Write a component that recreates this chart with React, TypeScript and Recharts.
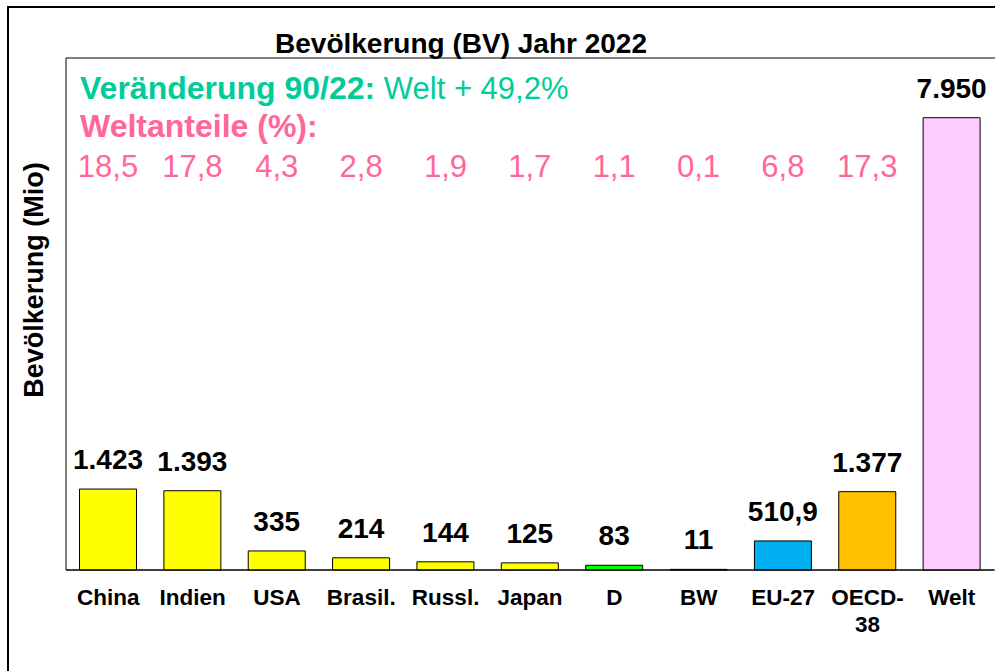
import { BarChart, Bar, XAxis, YAxis, Cell, LabelList, ReferenceArea } from 'recharts';

// Bevölkerung 2022 in Mio, Weltanteile in %
const categories = ['China', 'Indien', 'USA', 'Brasil.', 'Russl.', 'Japan', 'D', 'BW', 'EU-27', 'OECD-\n38', 'Welt'];
const population = [1423, 1393, 335, 214, 144, 125, 83, 11, 510.9, 1377, 7950];
const worldShare: (number | null)[] = [18.5, 17.8, 4.3, 2.8, 1.9, 1.7, 1.1, 0.1, 6.8, 17.3, null];
const boundaryTicks = [0, 1, 2, 3, 4, 5, 6, 7, 8, 9, 10, 11];

const barColors = ['#FFFF00', '#FFFF00', '#FFFF00', '#FFFF00', '#FFFF00', '#FFFF00', '#00FF00', '#00FF00', '#00B0F0', '#FFC000', '#FFCCFF'];

const data = categories.map((name, i) => ({ name, value: population[i], share: worldShare[i] }));

const FONT = '"Liberation Sans", Arial, Helvetica, sans-serif';
const GREEN = '#00CC99';
const PINK = '#FF6699';

// German number format: 1.423 / 510,9
function fmtDe(v: number, decimals: number): string {
  const [int, dec] = v.toFixed(decimals).split('.');
  const grouped = int.replace(/\B(?=(\d{3})+(?!\d))/g, '.');
  return dec ? `${grouped},${dec}` : grouped;
}

function CategoryTick(props: any) {
  const { x, y, payload } = props;
  const lines = String(payload.value).split('\n');
  return (
    <text x={x} y={y} textAnchor="middle" fontFamily={FONT} fontSize={22.5} fontWeight="bold" fill="#000">
      {lines.map((l, i) => (
        <tspan key={i} x={x} dy={i === 0 ? 35 : 27}>
          {l}
        </tspan>
      ))}
    </text>
  );
}

function ShareLabel(props: any) {
  const { x, width, value } = props;
  if (value === null || value === undefined) return null;
  return (
    <text x={x + width / 2} y={177} textAnchor="middle" fontFamily={FONT} fontSize={31} fill={PINK}>
      {fmtDe(Number(value), 1)}
    </text>
  );
}

export default function App() {
  return (
    <div style={{ position: 'fixed', left: 0, top: 0, width: 995, height: 671, overflow: 'hidden', background: '#fff' }}>
      {/* outer frame, right/bottom edges run off the picture */}
      <div style={{ position: 'absolute', left: 7, top: 6, width: 1100, height: 1000, border: '2px solid #000' }} />

      <BarChart
        width={995}
        height={671}
        data={data}
        margin={{ top: 58, right: 1, bottom: 41, left: 66 }}
        barCategoryGap="16%"
        style={{ position: 'absolute', left: 0, top: 0 }}
      >
        <XAxis
          xAxisId="num"
          type="number"
          domain={[0, 11]}
          ticks={boundaryTicks}
          allowDataOverflow
          height={0}
          axisLine={false}
          tick={false}
          tickSize={7}
          tickLine={{ stroke: '#808080', strokeWidth: 1 }}
        />
        <XAxis
          xAxisId="cat"
          dataKey="name"
          height={60}
          interval={0}
          tickSize={0}
          tickMargin={0}
          tickLine={false}
          axisLine={{ stroke: '#000', strokeWidth: 1 }}
          tick={<CategoryTick />}
        />
        <YAxis hide domain={[0, 9000]} />
        <ReferenceArea
          xAxisId="num"
          x1={0}
          x2={11}
          y1={0}
          y2={9000}
          fill="none"
          stroke="#000"
          strokeWidth={1}
          ifOverflow="visible"
        />
        <Bar xAxisId="cat" dataKey="value" stroke="#000" strokeWidth={1} isAnimationActive={false}>
          {data.map((d, i) => (
            <Cell key={d.name} fill={barColors[i]} />
          ))}
          <LabelList
            dataKey="value"
            position="top"
            offset={20}
            formatter={(v: any) => fmtDe(Number(v), Number.isInteger(Number(v)) ? 0 : 1)}
            style={{ fontFamily: FONT, fontSize: 28, fontWeight: 'bold', fill: '#000' }}
          />
          <LabelList dataKey="share" content={<ShareLabel />} />
        </Bar>
      </BarChart>

      <svg width={995} height={671} style={{ position: 'absolute', left: 0, top: 0, pointerEvents: 'none' }}>
        <text x={461} y={53} textAnchor="middle" fontFamily={FONT} fontSize={28} fontWeight="bold" fill="#000">
          Bevölkerung (BV) Jahr 2022
        </text>
        <text x={80} y={99} fontFamily={FONT} fontSize={32} fill={GREEN}>
          <tspan fontWeight="bold">Veränderung 90/22:</tspan>
          <tspan fontSize={31}> Welt + 49,2%</tspan>
        </text>
        <text x={80} y={137} fontFamily={FONT} fontSize={32} fontWeight="bold" fill={PINK}>
          Weltanteile (%):
        </text>
        <text
          x={43}
          y={280}
          transform="rotate(-90 43 280)"
          textAnchor="middle"
          fontFamily={FONT}
          fontSize={27}
          fontWeight="bold"
          fill="#000"
        >
          Bevölkerung (Mio)
        </text>
      </svg>
    </div>
  );
}
